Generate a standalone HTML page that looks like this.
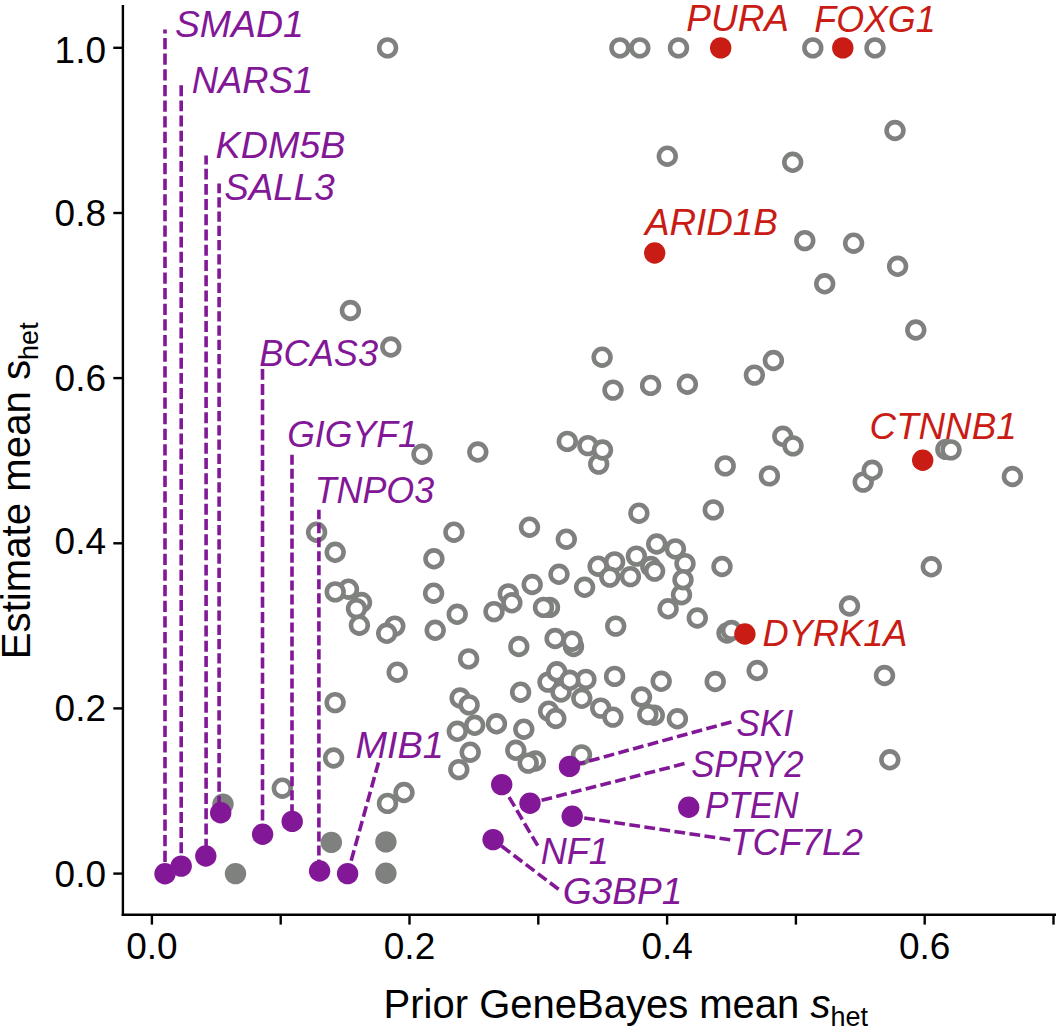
<!DOCTYPE html><html><head><meta charset="utf-8"><style>html,body{margin:0;padding:0;background:#fff;}svg{display:block;}text{font-family:"Liberation Sans",sans-serif;}</style></head><body>
<svg width="1057" height="1029" viewBox="0 0 1057 1029">
<rect width="1057" height="1029" fill="#fff"/>
<g fill="#fff" stroke="#7f817f" stroke-width="4.60">
<circle cx="387.6" cy="47.9" r="8.40"/>
<circle cx="619.9" cy="47.9" r="8.40"/>
<circle cx="639.8" cy="47.9" r="8.40"/>
<circle cx="678.5" cy="47.9" r="8.40"/>
<circle cx="812.8" cy="47.9" r="8.40"/>
<circle cx="875.0" cy="47.9" r="8.40"/>
<circle cx="667.3" cy="156.2" r="8.40"/>
<circle cx="792.7" cy="162.3" r="8.40"/>
<circle cx="895.0" cy="130.5" r="8.40"/>
<circle cx="804.8" cy="240.6" r="8.40"/>
<circle cx="853.6" cy="243.2" r="8.40"/>
<circle cx="897.6" cy="266.3" r="8.40"/>
<circle cx="824.7" cy="283.8" r="8.40"/>
<circle cx="915.8" cy="330.0" r="8.40"/>
<circle cx="350.4" cy="310.5" r="8.40"/>
<circle cx="390.8" cy="347.0" r="8.40"/>
<circle cx="602.1" cy="357.2" r="8.40"/>
<circle cx="613.0" cy="390.1" r="8.40"/>
<circle cx="650.6" cy="385.4" r="8.40"/>
<circle cx="687.4" cy="384.2" r="8.40"/>
<circle cx="754.4" cy="375.1" r="8.40"/>
<circle cx="773.4" cy="360.5" r="8.40"/>
<circle cx="567.3" cy="441.4" r="8.40"/>
<circle cx="587.9" cy="445.6" r="8.40"/>
<circle cx="598.7" cy="464.1" r="8.40"/>
<circle cx="602.5" cy="450.0" r="8.40"/>
<circle cx="422.0" cy="454.3" r="8.40"/>
<circle cx="477.8" cy="452.0" r="8.40"/>
<circle cx="725.2" cy="465.9" r="8.40"/>
<circle cx="769.4" cy="475.9" r="8.40"/>
<circle cx="782.8" cy="436.3" r="8.40"/>
<circle cx="793.0" cy="445.9" r="8.40"/>
<circle cx="863.2" cy="482.1" r="8.40"/>
<circle cx="872.2" cy="470.3" r="8.40"/>
<circle cx="945.9" cy="449.4" r="8.40"/>
<circle cx="951.0" cy="449.9" r="8.40"/>
<circle cx="1012.4" cy="476.5" r="8.40"/>
<circle cx="316.6" cy="532.2" r="8.40"/>
<circle cx="335.2" cy="552.3" r="8.40"/>
<circle cx="453.9" cy="532.2" r="8.40"/>
<circle cx="529.5" cy="527.2" r="8.40"/>
<circle cx="566.3" cy="539.2" r="8.40"/>
<circle cx="638.9" cy="513.2" r="8.40"/>
<circle cx="713.3" cy="509.9" r="8.40"/>
<circle cx="931.3" cy="566.8" r="8.40"/>
<circle cx="433.9" cy="558.8" r="8.40"/>
<circle cx="656.7" cy="544.0" r="8.40"/>
<circle cx="675.4" cy="548.9" r="8.40"/>
<circle cx="685.0" cy="563.6" r="8.40"/>
<circle cx="681.5" cy="594.7" r="8.40"/>
<circle cx="683.0" cy="579.7" r="8.40"/>
<circle cx="668.1" cy="608.8" r="8.40"/>
<circle cx="697.3" cy="618.0" r="8.40"/>
<circle cx="722.0" cy="566.5" r="8.40"/>
<circle cx="650.8" cy="566.5" r="8.40"/>
<circle cx="654.6" cy="571.1" r="8.40"/>
<circle cx="636.4" cy="556.1" r="8.40"/>
<circle cx="614.6" cy="561.9" r="8.40"/>
<circle cx="598.1" cy="566.2" r="8.40"/>
<circle cx="609.8" cy="577.1" r="8.40"/>
<circle cx="630.4" cy="576.6" r="8.40"/>
<circle cx="559.0" cy="574.3" r="8.40"/>
<circle cx="532.2" cy="584.5" r="8.40"/>
<circle cx="584.6" cy="587.3" r="8.40"/>
<circle cx="508.3" cy="593.9" r="8.40"/>
<circle cx="511.9" cy="602.8" r="8.40"/>
<circle cx="494.0" cy="611.6" r="8.40"/>
<circle cx="549.5" cy="607.4" r="8.40"/>
<circle cx="543.5" cy="607.4" r="8.40"/>
<circle cx="615.7" cy="626.1" r="8.40"/>
<circle cx="348.5" cy="589.2" r="8.40"/>
<circle cx="335.2" cy="591.9" r="8.40"/>
<circle cx="361.5" cy="602.5" r="8.40"/>
<circle cx="356.5" cy="608.6" r="8.40"/>
<circle cx="359.4" cy="625.2" r="8.40"/>
<circle cx="394.8" cy="626.1" r="8.40"/>
<circle cx="386.7" cy="633.3" r="8.40"/>
<circle cx="433.6" cy="593.2" r="8.40"/>
<circle cx="457.2" cy="614.3" r="8.40"/>
<circle cx="435.2" cy="630.3" r="8.40"/>
<circle cx="468.6" cy="658.9" r="8.40"/>
<circle cx="397.2" cy="672.2" r="8.40"/>
<circle cx="518.8" cy="646.5" r="8.40"/>
<circle cx="573.5" cy="646.5" r="8.40"/>
<circle cx="555.1" cy="638.5" r="8.40"/>
<circle cx="572.1" cy="641.2" r="8.40"/>
<circle cx="727.0" cy="633.0" r="8.40"/>
<circle cx="731.5" cy="630.5" r="8.40"/>
<circle cx="849.5" cy="606.0" r="8.40"/>
<circle cx="548.0" cy="682.1" r="8.40"/>
<circle cx="556.8" cy="671.8" r="8.40"/>
<circle cx="561.0" cy="692.0" r="8.40"/>
<circle cx="585.9" cy="679.4" r="8.40"/>
<circle cx="569.8" cy="680.3" r="8.40"/>
<circle cx="581.8" cy="698.3" r="8.40"/>
<circle cx="614.6" cy="676.4" r="8.40"/>
<circle cx="661.2" cy="681.3" r="8.40"/>
<circle cx="715.2" cy="681.5" r="8.40"/>
<circle cx="757.2" cy="670.5" r="8.40"/>
<circle cx="884.5" cy="675.5" r="8.40"/>
<circle cx="520.6" cy="692.2" r="8.40"/>
<circle cx="460.1" cy="698.0" r="8.40"/>
<circle cx="469.1" cy="704.9" r="8.40"/>
<circle cx="600.7" cy="708.1" r="8.40"/>
<circle cx="612.9" cy="717.1" r="8.40"/>
<circle cx="641.5" cy="697.0" r="8.40"/>
<circle cx="654.3" cy="715.2" r="8.40"/>
<circle cx="647.8" cy="714.5" r="8.40"/>
<circle cx="677.4" cy="718.8" r="8.40"/>
<circle cx="548.6" cy="711.2" r="8.40"/>
<circle cx="555.8" cy="718.5" r="8.40"/>
<circle cx="335.1" cy="702.6" r="8.40"/>
<circle cx="333.6" cy="758.0" r="8.40"/>
<circle cx="474.7" cy="725.3" r="8.40"/>
<circle cx="457.3" cy="731.3" r="8.40"/>
<circle cx="496.5" cy="723.8" r="8.40"/>
<circle cx="523.8" cy="729.2" r="8.40"/>
<circle cx="470.2" cy="752.2" r="8.40"/>
<circle cx="458.8" cy="769.6" r="8.40"/>
<circle cx="515.8" cy="750.3" r="8.40"/>
<circle cx="535.4" cy="761.0" r="8.40"/>
<circle cx="528.2" cy="763.1" r="8.40"/>
<circle cx="581.5" cy="754.9" r="8.40"/>
<circle cx="889.8" cy="759.8" r="8.40"/>
<circle cx="282.3" cy="788.2" r="8.40"/>
<circle cx="404.0" cy="792.5" r="8.40"/>
<circle cx="387.5" cy="803.4" r="8.40"/>
</g>
<g fill="#7f817f">
<circle cx="223.0" cy="804.1" r="10.70"/>
<circle cx="235.5" cy="873.6" r="10.70"/>
<circle cx="331.3" cy="842.4" r="10.70"/>
<circle cx="385.9" cy="841.9" r="10.70"/>
<circle cx="385.9" cy="873.3" r="10.70"/>
</g>
<g fill="none" stroke="#821797" stroke-width="3.6">
<path d="M165.0,29.6 V873.7" stroke-dasharray="11.25 4.38" stroke-dashoffset="7.24"/>
<path d="M181.2,82.6 V866.1" stroke-dasharray="10.90 4.24" stroke-dashoffset="12.48"/>
<path d="M206.1,155.5 V856.0" stroke-dasharray="10.97 4.26" stroke-dashoffset="2.08"/>
<path d="M219.1,183.4 V812.8" stroke-dasharray="10.26 3.99" stroke-dashoffset="0.45"/>
<path d="M262.5,368.9 V834.3" stroke-dasharray="10.94 4.26" stroke-dashoffset="0.10"/>
<path d="M292.0,454.7 V821.4" stroke-dasharray="10.07 3.91" stroke-dashoffset="13.96"/>
<path d="M318.9,509.8 V871.0" stroke-dasharray="10.09 3.92" stroke-dashoffset="0.57"/>
<polyline points="378.5,762.4 347.6,873.6" stroke-dasharray="10.8 4.4"/>
<polyline points="731.4,721.9 569.5,766.4" stroke-dasharray="10.8 4.4"/>
<polyline points="537.7,845.7 501.7,784.6" stroke-dasharray="10.8 4.4"/>
<polyline points="684.5,763.6 530.0,803.3" stroke-dasharray="10.8 4.4"/>
<polyline points="730.2,839.8 572.2,816.2" stroke-dasharray="10.8 4.4"/>
<polyline points="558.6,889.3 493.1,839.6" stroke-dasharray="10.8 4.4"/>
</g>
<g fill="#821797">
<circle cx="165.0" cy="873.7" r="10.70"/>
<circle cx="181.2" cy="866.1" r="10.70"/>
<circle cx="205.8" cy="856.0" r="10.70"/>
<circle cx="220.7" cy="812.8" r="10.70"/>
<circle cx="262.6" cy="834.3" r="10.70"/>
<circle cx="292.2" cy="821.4" r="10.70"/>
<circle cx="319.6" cy="871.0" r="10.70"/>
<circle cx="347.6" cy="873.6" r="10.70"/>
<circle cx="569.5" cy="766.4" r="10.70"/>
<circle cx="501.7" cy="784.6" r="10.70"/>
<circle cx="530.0" cy="803.3" r="10.70"/>
<circle cx="572.2" cy="816.2" r="10.70"/>
<circle cx="493.1" cy="839.6" r="10.70"/>
<circle cx="688.7" cy="807.2" r="10.70"/>
</g>
<g fill="#c81c14">
<circle cx="720.7" cy="47.9" r="10.70"/>
<circle cx="842.8" cy="47.9" r="10.70"/>
<circle cx="654.7" cy="253.0" r="10.70"/>
<circle cx="922.7" cy="460.2" r="10.70"/>
<circle cx="744.9" cy="634.0" r="10.70"/>
</g>
<g font-style="italic" font-size="36.5" fill="#821797">
<text x="174.90" y="37.00" textLength="129.02" lengthAdjust="spacingAndGlyphs">SMAD1</text>
<text x="191.80" y="92.60" textLength="121.41" lengthAdjust="spacingAndGlyphs">NARS1</text>
<text x="215.60" y="157.50" textLength="129.79" lengthAdjust="spacingAndGlyphs">KDM5B</text>
<text x="224.20" y="199.60" textLength="110.42" lengthAdjust="spacingAndGlyphs">SALL3</text>
<text x="259.30" y="366.00" textLength="118.89" lengthAdjust="spacingAndGlyphs">BCAS3</text>
<text x="287.20" y="447.40" textLength="130.53" lengthAdjust="spacingAndGlyphs">GIGYF1</text>
<text x="314.70" y="503.00" textLength="119.42" lengthAdjust="spacingAndGlyphs">TNPO3</text>
<text x="355.60" y="757.90" textLength="88.30" lengthAdjust="spacingAndGlyphs">MIB1</text>
<text x="736.30" y="735.80" textLength="56.96" lengthAdjust="spacingAndGlyphs">SKI</text>
<text x="540.80" y="864.40" textLength="68.13" lengthAdjust="spacingAndGlyphs">NF1</text>
<text x="691.20" y="777.10" textLength="112.48" lengthAdjust="spacingAndGlyphs">SPRY2</text>
<text x="730.00" y="855.20" textLength="132.90" lengthAdjust="spacingAndGlyphs">TCF7L2</text>
<text x="562.80" y="904.40" textLength="119.50" lengthAdjust="spacingAndGlyphs">G3BP1</text>
<text x="704.90" y="817.60" textLength="93.88" lengthAdjust="spacingAndGlyphs">PTEN</text>
</g>
<g font-style="italic" font-size="36.5" fill="#c81c14">
<text x="686.30" y="31.00" textLength="102.68" lengthAdjust="spacingAndGlyphs">PURA</text>
<text x="814.30" y="32.40" textLength="121.32" lengthAdjust="spacingAndGlyphs">FOXG1</text>
<text x="644.90" y="235.20" textLength="132.97" lengthAdjust="spacingAndGlyphs">ARID1B</text>
<text x="869.60" y="439.20" textLength="146.99" lengthAdjust="spacingAndGlyphs">CTNNB1</text>
<text x="762.50" y="646.00" textLength="145.03" lengthAdjust="spacingAndGlyphs">DYRK1A</text>
</g>
<g stroke="#000" stroke-width="2.4" fill="none">
<path d="M122.9,5 V915.9"/>
<path d="M121.7,914.7 H1056"/>
<path d="M113.3,873.6 H122"/>
<path d="M113.3,708.4 H122"/>
<path d="M113.3,543.3 H122"/>
<path d="M113.3,378.1 H122"/>
<path d="M113.3,213.0 H122"/>
<path d="M113.3,47.8 H122"/>
<path d="M151.9,915.9 V924.6"/>
<path d="M280.7,915.9 V924.6"/>
<path d="M409.5,915.9 V924.6"/>
<path d="M538.3,915.9 V924.6"/>
<path d="M667.1,915.9 V924.6"/>
<path d="M795.9,915.9 V924.6"/>
<path d="M924.7,915.9 V924.6"/>
<path d="M1053.5,915.9 V924.6"/>
</g>
<g font-size="37" fill="#000">
<text x="106" y="887.4" text-anchor="end">0.0</text>
<text x="106" y="720.9" text-anchor="end">0.2</text>
<text x="106" y="554.3" text-anchor="end">0.4</text>
<text x="106" y="391.0" text-anchor="end">0.6</text>
<text x="106" y="225.9" text-anchor="end">0.8</text>
<text x="106" y="63.2" text-anchor="end">1.0</text>
<text x="151.9" y="958.6" text-anchor="middle">0.0</text>
<text x="409.5" y="958.6" text-anchor="middle">0.2</text>
<text x="667.1" y="958.6" text-anchor="middle">0.4</text>
<text x="924.7" y="958.6" text-anchor="middle">0.6</text>
</g>
<text x="383.6" y="1018.3" font-size="40" fill="#000">Prior GeneBayes mean <tspan font-style="italic">s</tspan><tspan font-size="27" dy="8">het</tspan></text>
<text transform="translate(29.6,659.2) rotate(-90)" font-size="40.2" fill="#000">Estimate mean s<tspan font-size="27" dy="8">het</tspan></text>
</svg></body></html>
